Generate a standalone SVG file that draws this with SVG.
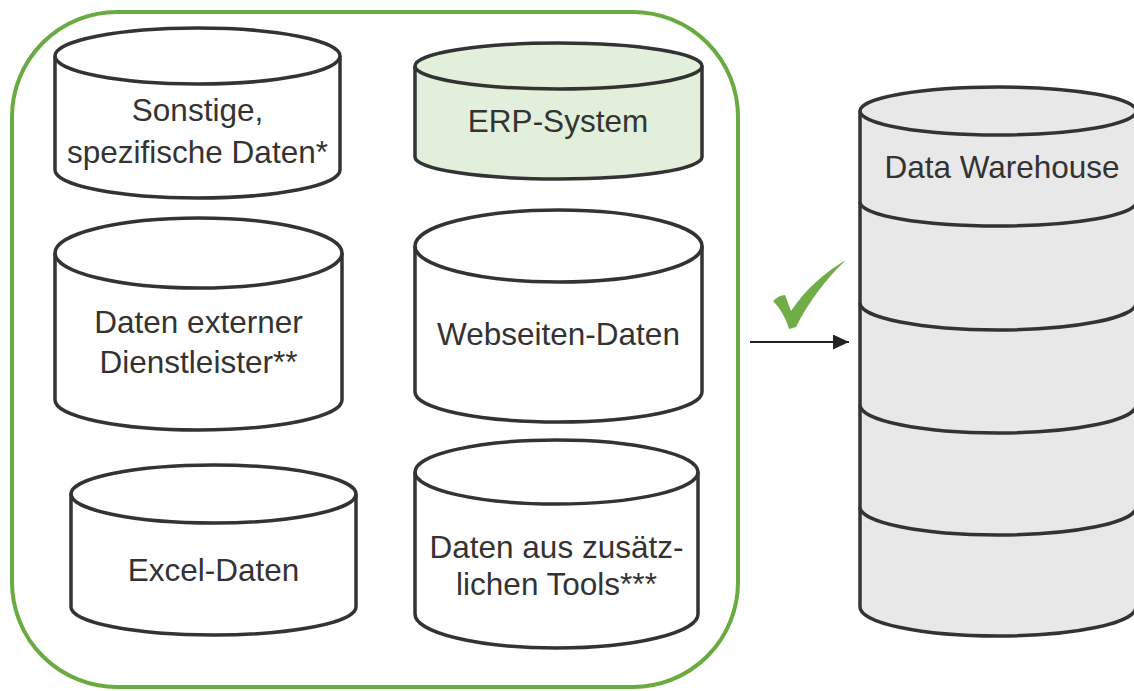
<svg xmlns="http://www.w3.org/2000/svg" width="1134" height="691" viewBox="0 0 1134 691">
<defs>
<style>
.cyl{fill:#ffffff;stroke:#333333;stroke-width:3.5;stroke-linejoin:round}
.erp{fill:#e2efda}
.dw{fill:#e8e8e8;stroke:#333333;stroke-width:3.5}
.lbl{font-family:"Liberation Sans",Arial,sans-serif;font-size:31.5px;fill:#333333;text-anchor:middle}
</style>
<marker id="arr" markerWidth="16" markerHeight="15" refX="16" refY="7.5" orient="auto" markerUnits="userSpaceOnUse" viewBox="0 0 16 15">
<path d="M0,0 L16,7.5 L0,15 Z" fill="#222222"/>
</marker>
</defs>
<rect width="1134" height="691" fill="#ffffff"/>
<g id="container">
<rect x="12" y="12" width="726" height="675" rx="105" ry="105" fill="none" stroke="#6aab41" stroke-width="4"/>
</g>
<g id="node-sonstige">
<path class="cyl" d="M55,56 L55,170 A142.5,28 0 0 0 340,170 L340,56 A142.5,28 0 0 0 55,56 Z"/>
<path class="cyl" style="fill:none" d="M55,56 A142.5,28 0 0 0 340,56"/>
<text class="lbl" x="197.5" y="121">Sonstige,</text>
<text class="lbl" x="197.5" y="163">spezifische Daten*</text>
</g>
<g id="node-erp">
<path class="cyl erp" d="M415,66 L415,157 A143.5,22 0 0 0 702,157 L702,66 A143.5,23 0 0 0 415,66 Z"/>
<path class="cyl" style="fill:none" d="M415,66 A143.5,23 0 0 0 702,66"/>
<text class="lbl" x="558" y="132">ERP-System</text>
</g>
<g id="node-extern">
<path class="cyl" d="M55,253 L55,400 A143.5,30 0 0 0 342,400 L342,253 A143.5,35 0 0 0 55,253 Z"/>
<path class="cyl" style="fill:none" d="M55,253 A143.5,35 0 0 0 342,253"/>
<text class="lbl" x="198.5" y="333">Daten externer</text>
<text class="lbl" x="198.5" y="373">Dienstleister**</text>
</g>
<g id="node-web">
<path class="cyl" d="M415,246 L415,392 A143.5,30 0 0 0 702,392 L702,246 A143.5,36 0 0 0 415,246 Z"/>
<path class="cyl" style="fill:none" d="M415,246 A143.5,36 0 0 0 702,246"/>
<text class="lbl" x="558.5" y="345">Webseiten-Daten</text>
</g>
<g id="node-excel">
<path class="cyl" d="M71,494 L71,607 A142.5,28 0 0 0 356,607 L356,494 A142.5,29 0 0 0 71,494 Z"/>
<path class="cyl" style="fill:none" d="M71,494 A142.5,29 0 0 0 356,494"/>
<text class="lbl" x="213.5" y="581">Excel-Daten</text>
</g>
<g id="node-tools">
<path class="cyl" d="M415,472 L415,614 A141.5,34 0 0 0 698,614 L698,472 A141.5,32 0 0 0 415,472 Z"/>
<path class="cyl" style="fill:none" d="M415,472 A141.5,32 0 0 0 698,472"/>
<text class="lbl" x="556.5" y="558">Daten aus zusätz-</text>
<text class="lbl" x="556.5" y="595">lichen Tools***</text>
</g>
<g id="node-dw">
<path class="dw" d="M860,111 L860,607 A138,29 0 0 0 1136,607 L1136,111 A138,24 0 0 0 860,111 Z"/>
<path class="dw" style="fill:none" d="M860,111 A138,24 0 0 0 1136,111"/>
<path class="dw" style="fill:none" d="M860,202 A138,24 0 0 0 1136,202"/>
<path class="dw" style="fill:none" d="M860,303 A138,27 0 0 0 1136,303"/>
<path class="dw" style="fill:none" d="M860,405 A138,28 0 0 0 1136,405"/>
<path class="dw" style="fill:none" d="M860,507 A138,28 0 0 0 1136,507"/>
<text class="lbl" x="1002" y="178">Data Warehouse</text>
</g>
<g id="check">
<path d="M773,301 C777,297 781,295 785,295 L791,311 C806,289 824,273 846,260 C826,279 809,301 796,327 L789,329 C786,318 780,308 773,301 Z" fill="#70ad47"/>
</g>
<g id="connectors">
<line x1="750" y1="342" x2="849" y2="342" stroke="#222222" stroke-width="2" marker-end="url(#arr)"/>
</g>
</svg>
